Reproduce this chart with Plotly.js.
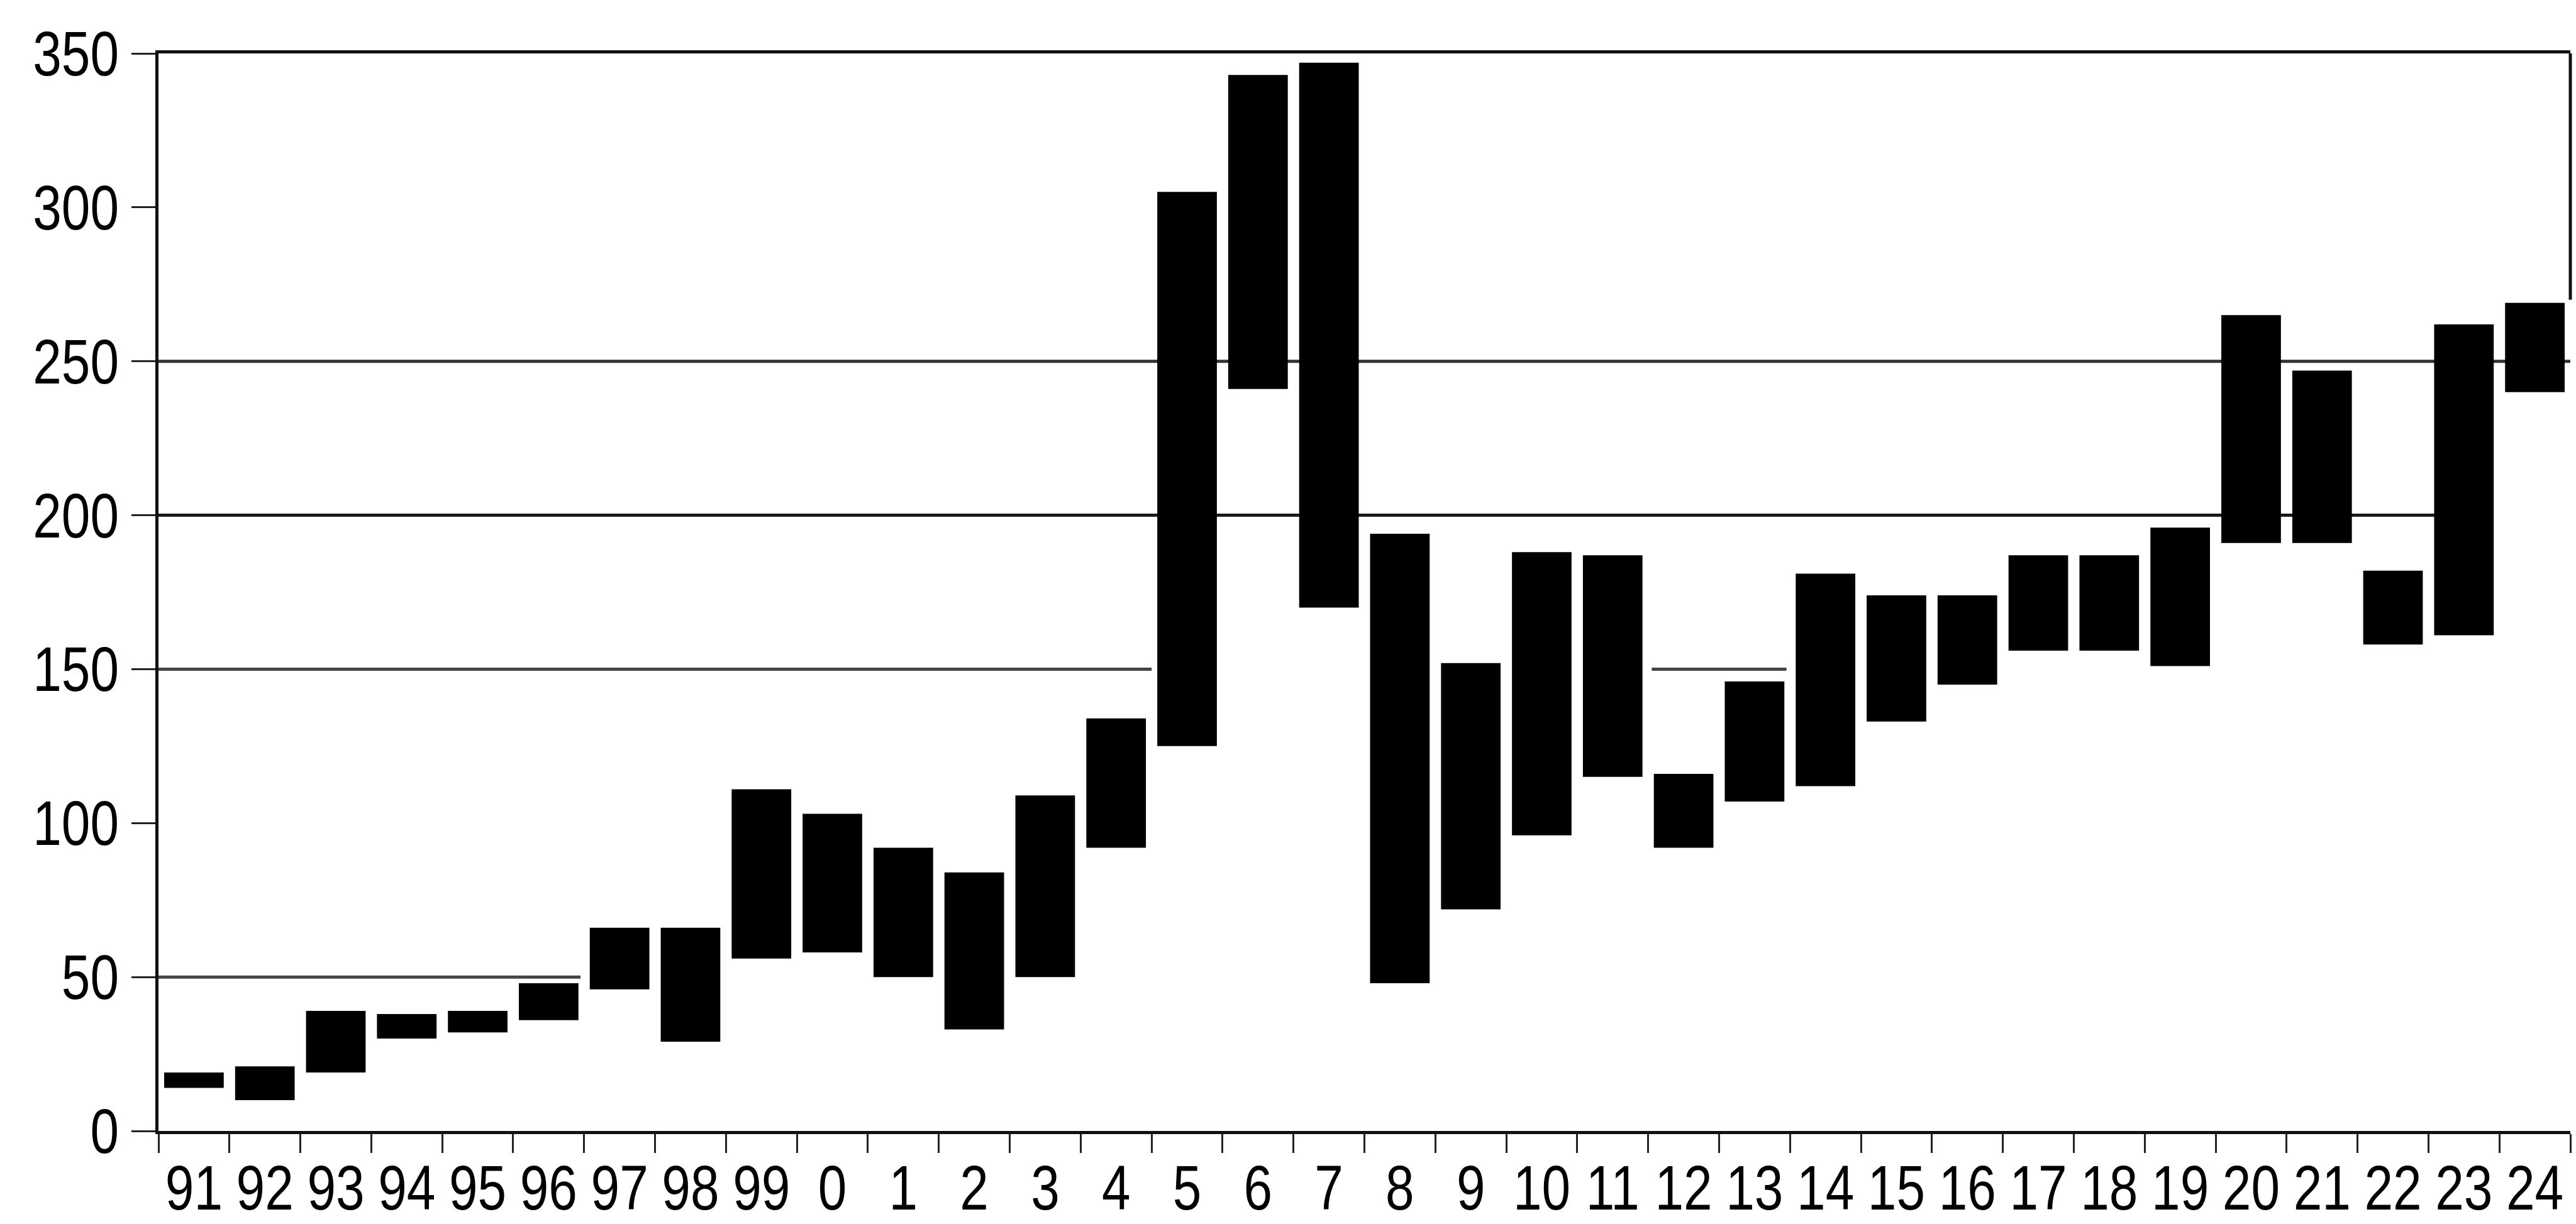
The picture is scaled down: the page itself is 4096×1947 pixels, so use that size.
<!DOCTYPE html>
<html>
<head>
<meta charset="utf-8">
<script src="https://cdn.plot.ly/plotly-3.0.1.min.js"></script>
<style>
  html, body { margin: 0; padding: 0; background: #fff; }
  #chart { width: 4096px; height: 1947px; }
</style>
</head>
<body>
<div id="chart"></div>
<script>
// Category labels (years)
const categories = ['91','92','93','94','95','96','97','98','99','0','1','2','3','4','5','6','7','8','9','10','11','12','13','14','15','16','17','18','19','20','21','22','23','24'];
// Lower and upper ends of each floating bar
const low  = [14, 10, 19, 30, 32, 36, 46, 29, 56, 58, 50, 33, 50, 92, 125, 241, 170, 48, 72, 96, 115, 92, 107, 112, 133, 145, 156, 156, 151, 191, 191, 158, 161, 240];
const high = [19, 21, 39, 38, 39, 48, 66, 66, 111, 103, 92, 84, 109, 134, 305, 343, 347, 194, 152, 188, 187, 116, 146, 181, 174, 174, 187, 187, 196, 265, 247, 182, 262, 269];
// Y axis ticks
const yTicks = [0, 50, 100, 150, 200, 250, 300, 350];

const span = high.map((h, i) => h - low[i]);

const FONT = '"Liberation Sans", Arial, sans-serif';

const trace = {
  type: 'bar',
  x: categories,
  base: low,
  y: span,
  width: 0.84,
  marker: { color: '#000000', line: { width: 0 } },
  hoverinfo: 'none',
  showlegend: false
};

function hline(y, x0, x1, color, w) {
  return { type: 'line', xref: 'x', yref: 'y', x0: x0, x1: x1, y0: y, y1: y,
           layer: 'below', line: { color: color, width: w } };
}

const layout = {
  width: 4096,
  height: 1947,
  margin: { l: 252, r: 9, t: 85, b: 148, pad: 0 },
  paper_bgcolor: '#ffffff',
  plot_bgcolor: '#ffffff',
  showlegend: false,
  font: { family: FONT, color: '#000000', size: 100 },
  xaxis: {
    type: 'category',
    range: [-0.5, 33.5],
    tickmode: 'linear',
    tick0: 0,
    dtick: 1,
    showgrid: false,
    zeroline: false,
    showline: true,
    linecolor: '#111111',
    linewidth: 5,
    mirror: true,
    ticks: 'outside',
    tickson: 'boundaries',
    ticklen: 30,
    tickwidth: 3,
    tickcolor: '#222222',
    tickfont: { family: FONT, size: 100, color: '#000000' },
    tickangle: 0,
    fixedrange: true
  },
  yaxis: {
    range: [0, 350],
    tickmode: 'array',
    tickvals: yTicks,
    ticktext: yTicks.map(String),
    showgrid: false,
    zeroline: false,
    showline: true,
    linecolor: '#111111',
    linewidth: 5,
    ticks: 'outside',
    ticklen: 38,
    tickwidth: 3,
    tickcolor: '#222222',
    tickfont: { family: FONT, size: 100, color: '#000000' },
    fixedrange: true
  },
  shapes: [
    hline(250, -0.5, 33.5, '#333333', 5),
    hline(200, -0.5, 31.6, '#1a1a1a', 5),
    hline(150, -0.5, 13.5, '#444444', 5),
    hline(150, 20.55, 22.45, '#444444', 5),
    hline(50, -0.5, 5.45, '#444444', 5),
    { type: 'line', xref: 'paper', yref: 'y', x0: 1, x1: 1, y0: 270, y1: 350,
      layer: 'above', line: { color: '#111111', width: 5 } }
  ]
};

Plotly.newPlot('chart', [trace], layout, { displayModeBar: false, staticPlot: true }).then(function (gd) {
  // Narrow the tick labels horizontally to match the condensed face of the original
  gd.querySelectorAll('.xtick text, .ytick text').forEach(function (t) {
    const w = t.getComputedTextLength();
    t.setAttribute('textLength', (w * 0.82).toFixed(1));
    t.setAttribute('lengthAdjust', 'spacingAndGlyphs');
  });
});
</script>
</body>
</html>
